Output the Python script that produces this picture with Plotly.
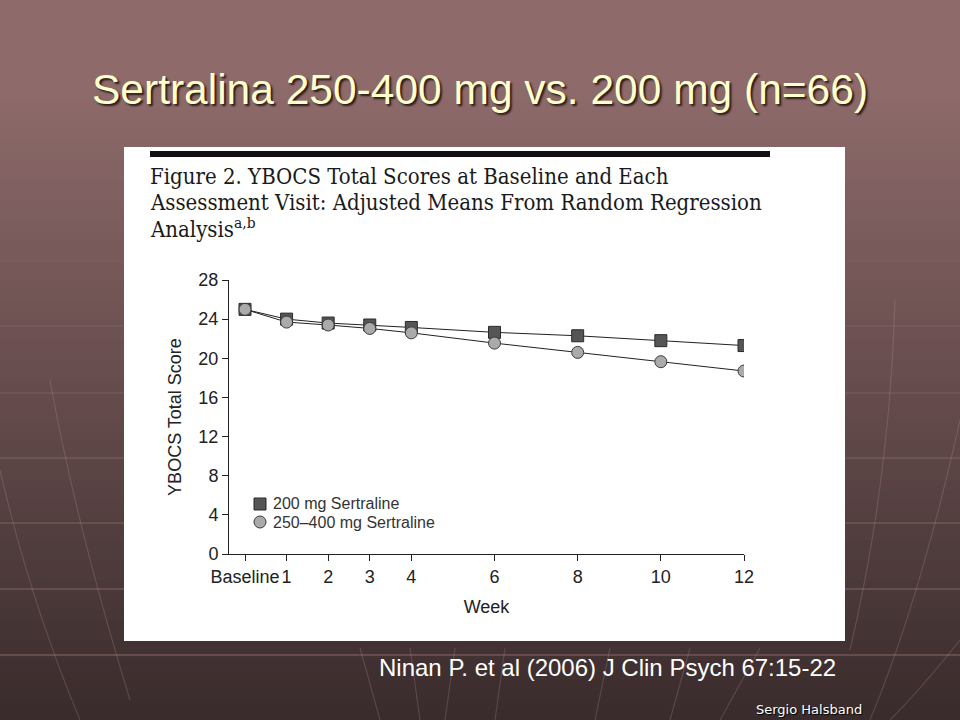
import plotly.graph_objects as go

# ---------------- data ----------------
weeks = [0, 1, 2, 3, 4, 6, 8, 10, 12]
tick_labels = ["Baseline", "1", "2", "3", "4", "6", "8", "10", "12"]
score_200 = [25.0, 24.0, 23.6, 23.4, 23.15, 22.65, 22.3, 21.8, 21.3]
score_250_400 = [25.0, 23.7, 23.4, 23.05, 22.6, 21.55, 20.6, 19.65, 18.7]
y_ticks = [0, 4, 8, 12, 16, 20, 24, 28]
series_names = ["200 mg Sertraline", "250\u2013400 mg Sertraline"]

W, H = 960, 720
def px(x): return x / W
def py(y): return 1 - y / H

fig = go.Figure()

fig.add_trace(go.Scatter(
    x=weeks, y=score_200, mode="lines+markers", name=series_names[0],
    line=dict(color="#222222", width=1),
    marker=dict(symbol="square", size=12, color="#555555", line=dict(color="#2a2a2a", width=1)),
    showlegend=False, hoverinfo="skip"))
fig.add_trace(go.Scatter(
    x=weeks, y=score_250_400, mode="lines+markers", name=series_names[1],
    line=dict(color="#222222", width=1),
    marker=dict(symbol="circle", size=12, color="#AAAAAA", line=dict(color="#3a3a3a", width=1)),
    showlegend=False, hoverinfo="skip"))

shapes = []
# background gradient
top = (142, 106, 107)
bot = (57, 43, 43)
n = 72
for i in range(n):
    y0 = i * H / n
    y1 = (i + 1) * H / n
    yc = (y0 + y1) / 2
    f = max(0.0, (yc - 90) / (H - 90))
    c = tuple(int(round(top[k] + (bot[k] - top[k]) * f)) for k in range(3))
    shapes.append(dict(type="rect", xref="paper", yref="paper", x0=0, x1=1,
                       y0=py(y1 + 0.5), y1=py(y0), line=dict(width=0),
                       fillcolor="rgb(%d,%d,%d)" % c, layer="below"))
# faint horizontal lines
for i, yy in enumerate([261, 326, 393, 458, 523, 589, 655]):
    op = 0.08 + 0.05 * i
    shapes.append(dict(type="line", xref="paper", yref="paper", x0=0, x1=1,
                       y0=py(yy), y1=py(yy), line=dict(color="rgba(190,150,150,%.2f)" % min(op, 0.42), width=1.5),
                       layer="below"))
# faint curved lines
curves = [
    "M 50 380 Q 75 520 130 700",
    "M 0 470 Q 30 600 80 720",
    "M 895 300 Q 890 480 850 650",
    "M 960 420 Q 920 600 870 720",
    "M 360 648 L 380 720", "M 410 648 L 420 720", "M 455 648 L 445 720",
    "M 505 648 L 495 720", "M 610 648 L 595 720", "M 690 648 L 670 720",
    "M 760 648 L 720 720", "M 960 640 Q 920 690 890 720",
]
for c in curves:
    tokens = c.split()
    out = []
    j = 0
    while j < len(tokens):
        t = tokens[j]
        if t in ("M", "L", "Q"):
            out.append(t); j += 1
        else:
            xv = float(tokens[j]); yv = float(tokens[j + 1])
            out.append("%.5f,%.5f" % (px(xv), py(yv))); j += 2
    shapes.append(dict(type="path", xref="paper", yref="paper", path=" ".join(out),
                       line=dict(color="rgba(200,160,160,0.22)", width=1.2), layer="below"))
# white panel
shapes.append(dict(type="rect", xref="paper", yref="paper", x0=px(124), x1=px(845),
                   y0=py(641), y1=py(147), fillcolor="white", line=dict(width=0), layer="below"))
# black rule
shapes.append(dict(type="rect", xref="paper", yref="paper", x0=px(150), x1=px(770),
                   y0=py(157), y1=py(151), fillcolor="#111111", line=dict(width=0), layer="below"))
# legend symbols
shapes.append(dict(type="rect", xref="paper", yref="paper", x0=px(254), x1=px(266),
                   y0=py(510), y1=py(498), fillcolor="#555555", line=dict(color="#2a2a2a", width=1)))
shapes.append(dict(type="circle", xref="paper", yref="paper", x0=px(254), x1=px(266),
                   y0=py(528), y1=py(516), fillcolor="#AAAAAA", line=dict(color="#3a3a3a", width=1)))

ann = []
ann.append(dict(text="Sertralina 250-400 mg vs. 200 mg (n=66)", x=px(480), y=py(89),
                xref="paper", yref="paper", showarrow=False, xanchor="center", yanchor="middle",
                font=dict(family="Liberation Sans", size=42.5, color="#FFFFCC",
                          shadow="2px 2px 2px #2a1a1a")))
cap_lines = ["Figure 2. YBOCS Total Scores at Baseline and Each",
             "Assessment Visit: Adjusted Means From Random Regression",
             "Analysis<sup>a,b</sup>"]
for i, t in enumerate(cap_lines):
    ann.append(dict(text=t, x=px(148), y=py(176 + 26 * i), xref="paper", yref="paper",
                    showarrow=False, xanchor="left", yanchor="middle",
                    font=dict(family="DejaVu Serif Condensed, Liberation Serif", size=22, color="#1a1a1a")))
for i, t in enumerate(series_names):
    ann.append(dict(text=t, x=px(271), y=py(504 + 18 * i), xref="paper", yref="paper",
                    showarrow=False, xanchor="left", yanchor="middle",
                    font=dict(family="Liberation Sans", size=16, color="#333333")))
ann.append(dict(text="Ninan P. et al (2006) J Clin Psych 67:15-22", x=px(377), y=py(667),
                xref="paper", yref="paper", showarrow=False, xanchor="left", yanchor="middle",
                font=dict(family="Liberation Sans", size=24, color="white")))
ann.append(dict(text="Sergio Halsband", x=px(809), y=py(709), xref="paper", yref="paper",
                showarrow=False, xanchor="center", yanchor="middle",
                font=dict(family="DejaVu Sans", size=13, color="white", shadow="1px 1px 1px #000")))

fig.update_layout(
    width=W, height=H, margin=dict(l=0, r=0, t=0, b=0, pad=0),
    paper_bgcolor="rgb(142,106,107)", plot_bgcolor="rgba(0,0,0,0)",
    shapes=shapes, annotations=ann, showlegend=False, hovermode=False,
    xaxis=dict(domain=[px(229), px(744)], range=[-0.385, 12], tickvals=weeks, ticktext=tick_labels,
               automargin=False, tickangle=0,
               showgrid=False, zeroline=False, showline=True, linecolor="#222222", linewidth=1,
               ticks="outside", ticklen=6, tickcolor="#222222",
               tickfont=dict(family="Liberation Sans", size=18, color="#222222"),
               title=dict(text="Week", font=dict(family="Liberation Sans", size=18, color="#222222"),
                          standoff=14)),
    yaxis=dict(domain=[py(554), py(280)], range=[0, 28], tickvals=y_ticks,
               automargin=False,
               showgrid=False, zeroline=False, showline=True, linecolor="#222222", linewidth=1,
               ticks="outside", ticklen=6, tickcolor="#222222",
               tickfont=dict(family="Liberation Sans", size=18, color="#222222"),
               title=dict(text="YBOCS Total Score", font=dict(family="Liberation Sans", size=18, color="#222222"),
                          standoff=12)),
)

fig.write_html("out.html", config={"displayModeBar": False, "responsive": False},
               post_script="document.body.style.margin='0';document.body.style.overflow='hidden';")
